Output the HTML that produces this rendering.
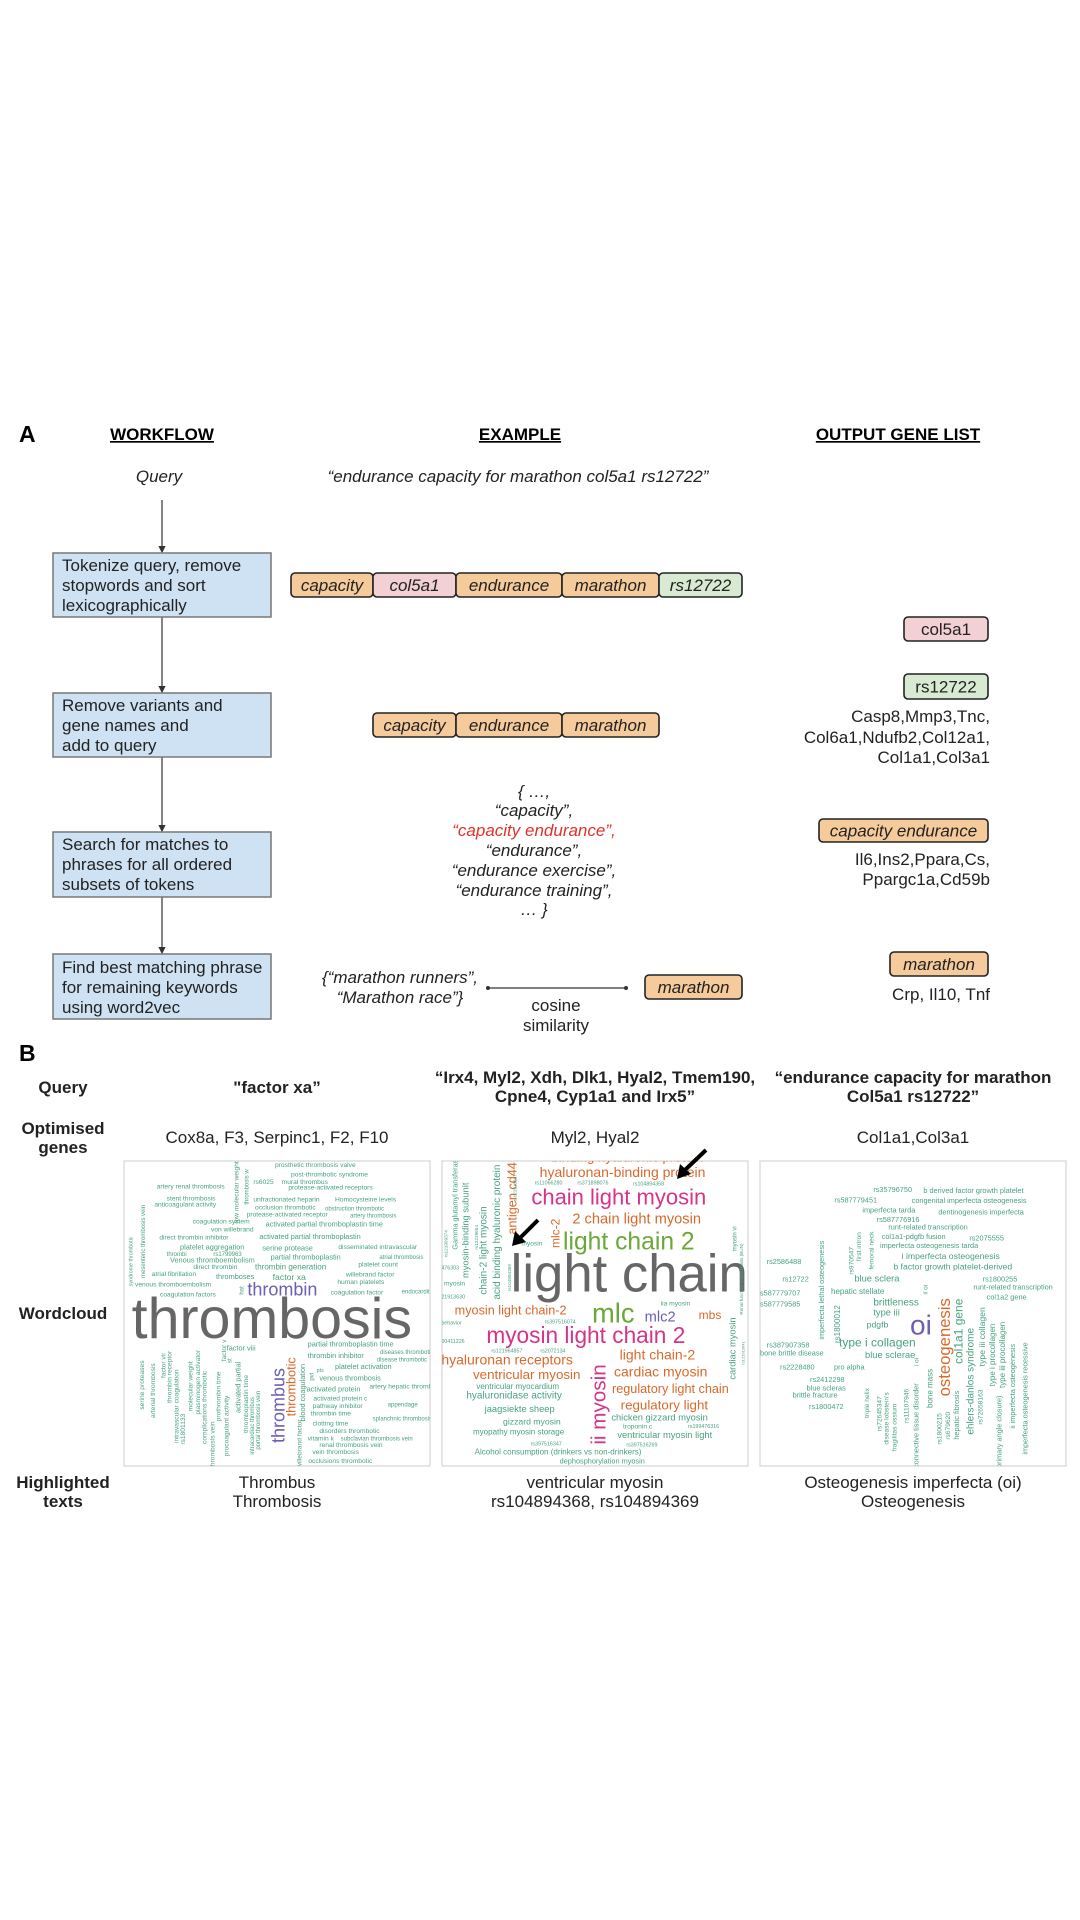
<!DOCTYPE html>
<html><head><meta charset="utf-8">
<style>
html,body{margin:0;padding:0;background:#fff;}
svg{display:block;font-family:"Liberation Sans",Arial,sans-serif;}
.h{font-weight:bold;font-size:17px;text-decoration:underline;}
.t{font-size:17px;fill:#222;}
.i{font-style:italic;}
.b{font-weight:bold;}
</style></head>
<body>
<svg id="fig" width="1080" height="1920" viewBox="0 0 1080 1920" xmlns="http://www.w3.org/2000/svg">
<defs>
<marker id="ah" markerWidth="6" markerHeight="6" refX="5" refY="3" orient="auto"><path d="M0,0 L6,3 L0,6 z" fill="#333"/></marker>
<clipPath id="cp1"><rect x="124" y="1161" width="306" height="305"/></clipPath>
<clipPath id="cp2"><rect x="442" y="1161" width="306" height="305"/></clipPath>
<clipPath id="cp3"><rect x="760" y="1161" width="306" height="305"/></clipPath>
</defs>
<rect width="1080" height="1920" fill="#fff"/>

<!-- Panel A -->
<text x="19" y="442" font-size="23" font-weight="bold">A</text>
<text class="h" x="162" y="440" text-anchor="middle">WORKFLOW</text>
<text class="h" x="520" y="440" text-anchor="middle">EXAMPLE</text>
<text class="h" x="898" y="440" text-anchor="middle">OUTPUT GENE LIST</text>

<text class="t i" x="159" y="482" text-anchor="middle">Query</text>
<text class="t i" x="518" y="482" text-anchor="middle">“endurance capacity for marathon col5a1 rs12722”</text>

<g stroke="#333" stroke-width="1.2">
<line x1="162" y1="500" x2="162" y2="552" marker-end="url(#ah)"/>
<line x1="162" y1="617" x2="162" y2="692" marker-end="url(#ah)"/>
<line x1="162" y1="757" x2="162" y2="831" marker-end="url(#ah)"/>
<line x1="162" y1="897" x2="162" y2="953" marker-end="url(#ah)"/>
</g>

<g>
<rect x="53" y="553" width="218" height="64" fill="#cfe2f3" stroke="#777" stroke-width="1.5"/>
<text class="t" x="62" y="571">Tokenize query, remove</text>
<text class="t" x="62" y="591">stopwords and sort</text>
<text class="t" x="62" y="611">lexicographically</text>
</g>
<g>
<rect x="53" y="693" width="218" height="64" fill="#cfe2f3" stroke="#777" stroke-width="1.5"/>
<text class="t" x="62" y="711">Remove variants and</text>
<text class="t" x="62" y="731">gene names and</text>
<text class="t" x="62" y="751">add to query</text>
</g>
<g>
<rect x="53" y="832" width="218" height="65" fill="#cfe2f3" stroke="#777" stroke-width="1.5"/>
<text class="t" x="62" y="850">Search for matches to</text>
<text class="t" x="62" y="870">phrases for all ordered</text>
<text class="t" x="62" y="890">subsets of tokens</text>
</g>
<g>
<rect x="53" y="954" width="218" height="65" fill="#cfe2f3" stroke="#777" stroke-width="1.5"/>
<text class="t" x="62" y="973">Find best matching phrase</text>
<text class="t" x="62" y="993">for remaining keywords</text>
<text class="t" x="62" y="1013">using word2vec</text>
</g>

<g id="tokens"></g>

<g class="t i" text-anchor="middle">
<text x="534" y="797">{ …,</text>
<text x="534" y="816">“capacity”,</text>
<text x="534" y="836" fill="#e0312b" style="fill:#e0312b">“capacity endurance”,</text>
<text x="534" y="856">“endurance”,</text>
<text x="534" y="876">“endurance exercise”,</text>
<text x="534" y="896">“endurance training”,</text>
<text x="534" y="915">… }</text>
</g>

<g>
<text class="t i" x="400" y="983" text-anchor="middle">{“marathon runners”,</text>
<text class="t i" x="400" y="1003" text-anchor="middle">“Marathon race”}</text>
<line x1="488" y1="988" x2="626" y2="988" stroke="#333" stroke-width="1.2"/>
<circle cx="488" cy="988" r="2" fill="#333"/><circle cx="626" cy="988" r="2" fill="#333"/>
<text class="t" x="556" y="1011" text-anchor="middle">cosine</text>
<text class="t" x="556" y="1031" text-anchor="middle">similarity</text>
</g>

<g>
<text class="t" x="990" y="722" text-anchor="end">Casp8,Mmp3,Tnc,</text>
<text class="t" x="990" y="743" text-anchor="end">Col6a1,Ndufb2,Col12a1,</text>
<text class="t" x="990" y="763" text-anchor="end">Col1a1,Col3a1</text>
<text class="t" x="990" y="865" text-anchor="end">Il6,Ins2,Ppara,Cs,</text>
<text class="t" x="990" y="885" text-anchor="end">Ppargc1a,Cd59b</text>
<text class="t" x="990" y="1000" text-anchor="end">Crp, Il10, Tnf</text>
</g>

<!-- Panel B -->
<text x="19" y="1061" font-size="23" font-weight="bold">B</text>
<g class="t b" text-anchor="middle">
<text x="63" y="1093">Query</text>
<text x="63" y="1134">Optimised</text>
<text x="63" y="1153">genes</text>
<text x="63" y="1319">Wordcloud</text>
<text x="63" y="1488">Highlighted</text>
<text x="63" y="1507">texts</text>
</g>
<g class="t b" text-anchor="middle">
<text x="277" y="1093">"factor xa”</text>
<text x="595" y="1083">“Irx4, Myl2, Xdh, Dlk1, Hyal2, Tmem190,</text>
<text x="595" y="1102">Cpne4, Cyp1a1 and Irx5”</text>
<text x="913" y="1083">“endurance capacity for marathon</text>
<text x="913" y="1102">Col5a1 rs12722”</text>
</g>
<g class="t" text-anchor="middle">
<text x="277" y="1143">Cox8a, F3, Serpinc1, F2, F10</text>
<text x="595" y="1143">Myl2, Hyal2</text>
<text x="913" y="1143">Col1a1,Col3a1</text>
</g>
<g class="t" text-anchor="middle">
<text x="277" y="1488">Thrombus</text>
<text x="277" y="1507">Thrombosis</text>
<text x="595" y="1488">ventricular myosin</text>
<text x="595" y="1507">rs104894368, rs104894369</text>
<text x="913" y="1488">Osteogenesis imperfecta (oi)</text>
<text x="913" y="1507">Osteogenesis</text>
</g>

<rect x="124" y="1161" width="306" height="305" fill="#fff" stroke="#ddd" stroke-width="1.5"/>
<rect x="442" y="1161" width="306" height="305" fill="#fff" stroke="#ddd" stroke-width="1.5"/>
<rect x="760" y="1161" width="306" height="305" fill="#fff" stroke="#ddd" stroke-width="1.5"/>
<g id="wc1" clip-path="url(#cp1)"></g>
<g id="wc2" clip-path="url(#cp2)"></g>
<g id="wc3" clip-path="url(#cp3)"></g>

<g stroke="#000" stroke-width="4">
<line x1="706" y1="1150" x2="685" y2="1170"/>
<polygon points="677,1179 680,1164 691,1174" fill="#000" stroke="none"/>
<line x1="538" y1="1220" x2="520" y2="1238"/>
<polygon points="512,1246 515,1231 526,1242" fill="#000" stroke="none"/>
</g>
</svg>

<script>
var NS="http://www.w3.org/2000/svg";
var tokenLabels1=["capacity","col5a1","endurance","marathon","rs12722"];
var tokenKinds1=["o","p","o","o","g"];
var tokenLabels2=["capacity","endurance","marathon"];
var tokenKinds2=["o","o","o"];
var fills={o:"#f6cb9c",p:"#f2d0d3",g:"#d9ead3"};
var tokenEdges1=[291,373,456,562,659,742];
var tokenEdges2=[373,456,562,659];

var tg=document.getElementById("tokens");
function box(x,y,w,h,kind,label,italic,name){
  var r=document.createElementNS(NS,"rect");
  r.setAttribute("x",x);r.setAttribute("y",y);r.setAttribute("width",w);r.setAttribute("height",h);
  r.setAttribute("rx",4);r.setAttribute("fill",fills[kind]);r.setAttribute("stroke","#222");r.setAttribute("stroke-width","1.6");
  
  
  tg.appendChild(r);
  var t=document.createElementNS(NS,"text");
  t.setAttribute("x",x+w/2);t.setAttribute("y",y+h/2+6);t.setAttribute("text-anchor","middle");
  t.setAttribute("class","t"+(italic?" i":""));t.textContent=label;
  
  
  tg.appendChild(t);
}
for(var i=0;i<tokenLabels1.length;i++){box(tokenEdges1[i],573,tokenEdges1[i+1]-tokenEdges1[i],24,tokenKinds1[i],tokenLabels1[i],true,"token-"+tokenLabels1[i]);}
for(var i=0;i<tokenLabels2.length;i++){box(tokenEdges2[i],713,tokenEdges2[i+1]-tokenEdges2[i],24,tokenKinds2[i],tokenLabels2[i],true,"token2-"+tokenLabels2[i]);}
box(904,617,84,24,"p","col5a1",false,"output-col5a1");
box(904,674,84,25,"g","rs12722",false,"output-rs12722");
box(819,819,169,23,"o","capacity endurance",true,"output-capacity-endurance");
box(645,975,97,24,"o","marathon",true,"example-marathon");
box(890,952,98,24,"o","marathon",true,"output-marathon");

var C={g:"#47a27f",k:"#666666",p:"#6a5fb5",o:"#d9692b",m:"#d6338a",l:"#6aa83a"};
// [text, x, y, size, color, vertical] in 3x zoom units of each panel
var words1=[
["prosthetic thrombosis valve",465,27,20,"g"],["post-thrombotic syndrome",513,55,20,"g"],["rs6025",400,78,20,"g"],["mural thrombus",485,78,20,"g"],
["artery renal thrombosis",110,92,20,"g"],["protease-activated receptors",505,94,20,"g"],["stent thrombosis",140,127,20,"g"],
["unfractionated heparin",400,131,20,"g"],["Homocysteine levels",645,131,20,"g"],["anticoagulant activity",103,146,20,"g"],
["occlusion thrombotic",405,155,20,"g"],["obstruction thrombotic",615,157,18,"g"],["protease-activated receptor",380,175,20,"g"],
["artery thrombosis",690,178,18,"g"],["coagulation system",218,197,20,"g"],["activated partial thromboplastin time",437,205,22,"g"],
["von willebrand",273,220,20,"g"],["direct thrombin inhibitor",118,245,20,"g"],["activated partial thromboplastin",418,243,22,"g"],
["platelet aggregation",180,274,22,"g"],["serine protease",427,278,22,"g"],["disseminated intravascular",655,273,20,"g"],
["thrombi",140,294,18,"g"],["rs1799963",280,294,18,"g"],["partial thromboplastin",452,305,22,"g"],["atrial thrombosis",778,303,18,"g"],
["Venous thromboembolism",150,314,22,"g"],["direct thrombin",220,333,20,"g"],["thrombin generation",405,335,24,"g"],["platelet count",715,326,20,"g"],
["atrial fibrillation",95,354,20,"g"],["thromboses",288,363,22,"g"],["factor xa",458,366,26,"g"],["willebrand factor",678,355,20,"g"],
["venous thromboembolism",45,385,20,"g"],["human platelets",652,378,20,"g"],["thrombin",382,412,54,"p"],["coagulation factors",120,416,20,"g"],
["coagulation factor",632,410,20,"g"],["endocarditis",845,407,18,"g"],["thrombosis",35,540,172,"k"],
["partial thromboplastin time",563,565,22,"g"],["factor viii",320,578,22,"g"],["thrombin inhibitor",563,600,22,"g"],
["diseases thrombotic",780,588,18,"g"],["disease thrombotic",770,610,18,"g"],["platelet activation",645,633,22,"g"],["pts",590,642,16,"g"],
["venous thrombosis",598,668,22,"g"],["activated protein",560,700,22,"g"],["artery hepatic thrombosis",748,692,20,"g"],
["activated protein c",580,727,20,"g"],["appendage",803,745,18,"g"],["pathway inhibitor",578,750,20,"g"],["thrombin time",572,773,20,"g"],
["splanchnic thrombosis",758,788,18,"g"],["clotting time",578,803,20,"g"],["disorders thrombotic",598,825,20,"g"],["vitamin k",563,847,20,"g"],
["subclavian thrombosis vein",662,847,18,"g"],["renal thrombosis vein",598,867,20,"g"],["vein thrombosis",577,888,20,"g"],["occlusions thrombotic",565,915,20,"g"],
["thrombus",493,855,54,"p",1],["thrombotic",526,775,38,"o",1],["blood coagulation",555,790,22,"g",1],["willebrand factor",545,930,20,"g",1],["pvt",580,668,18,"g",1],
["serine proteases",72,755,20,"g",1],["arterial thrombosis",105,780,20,"g",1],["factor vii",137,660,20,"g",1],["thrombin receptor",155,735,20,"g",1],
["intravascular coagulation",175,855,20,"g",1],["rs1801133",195,860,20,"g",1],["molecular weight",218,760,20,"g",1],["plasminogen activator",240,770,20,"g",1],
["complications thrombotic",260,858,20,"g",1],["thrombosis vein",283,930,20,"g",1],["prothrombin time",302,790,20,"g",1],["procoagulant activity",325,895,20,"g",1],
["factor v",318,610,20,"g",1],["activated partial",362,765,22,"g",1],["low molecular weight",355,195,20,"g",1],["thromboplastin time",384,825,20,"g",1],
["intracardiac thrombus",402,890,18,"g",1],["portal thrombosis vein",420,875,18,"g",1],["syndrome thrombotic",38,385,16,"g",1],
["mesenteric thrombosis vein",75,360,18,"g",1],["thrombosis w",385,140,18,"g",1],["hat",370,410,18,"g",1],["st",335,615,18,"g",1]
];
var words2=[
["binding hyaluronic protein",340,10,40,"o"],["hyaluronan-binding protein",305,57,42,"o"],["rs11066280",290,80,16,"g"],["rs371898076",418,80,16,"g"],
["rs104894368",585,82,16,"g"],["chain light myosin",280,140,66,"m"],["2 chain light myosin",403,197,44,"o"],["light chain 2",375,275,74,"l"],
["myosin",250,262,20,"g"],["light chain",218,400,158,"k"],["mlc",462,493,82,"l"],["mlc2",620,490,44,"p"],["mbs",782,483,36,"o"],
["iia myosin",668,443,20,"g"],["myosin light chain-2",50,470,38,"o"],["rs397516074",320,497,16,"g"],["myosin light chain 2",145,555,68,"m"],
["rs121964857",160,583,16,"g"],["rs2072134",307,583,16,"g"],["hyaluronan receptors",10,620,42,"o"],["light chain-2",545,605,42,"o"],
["ventricular myosin",105,663,40,"o"],["cardiac myosin",528,655,42,"o"],["ventricular myocardium",115,693,24,"g"],["regulatory light chain",522,705,38,"o"],
["hyaluronidase activity",85,722,30,"g"],["regulatory light",548,755,40,"o"],["jaagsiekte sheep",140,762,28,"g"],["chicken gizzard myosin",520,788,28,"g"],
["gizzard myosin",195,800,26,"g"],["troponin c",555,812,20,"g"],["rs199476316",750,810,16,"g"],["myopathy myosin storage",105,830,24,"g"],
["ventricular myosin light",538,840,28,"g"],["rs397516347",278,862,16,"g"],["rs397516269",565,865,16,"g"],
["Alcohol consumption (drinkers vs non-drinkers)",110,890,24,"g"],["dephosphorylation myosin",365,917,22,"g"],
["476303",10,335,16,"g"],["myosin",18,382,20,"g"],["21913630",10,422,16,"g"],["behavior",10,500,16,"g"],["00411226",10,555,16,"g"],
["ii myosin",502,860,62,"m",1],["antigen cd44",236,230,38,"o",1],["mlc-2",364,270,36,"o",1],["acid binding hyaluronic protein",186,425,30,"g",1],
["chain-2 light myosin",145,410,30,"g",1],["myosin-binding subunit",92,360,28,"g",1],["Gamma glutamyl transferase",58,275,22,"g",1],
["rs121909374",28,298,14,"g",1],["rs12229654",120,275,14,"g",1],["rs121913627",236,130,14,"g",1],["rs104894369",219,400,14,"g",1],
["cardiac myosin",893,665,28,"g",1],["myosin vi",895,280,18,"g",1],["Renal function-related traits (BUN)",915,470,14,"g",1],["rs121913641",920,620,12,"g",1]
];
var words3=[
["rs35796750",355,102,22,"g"],["b derived factor growth platelet",505,105,22,"g"],["rs587779451",238,133,22,"g"],
["congenital imperfecta osteogenesis",470,135,22,"g"],["imperfecta tarda",322,163,22,"g"],["dentinogenesis imperfecta",550,170,22,"g"],
["rs587776916",365,192,22,"g"],["runt-related transcription",400,215,22,"g"],["col1a1-pdgfb fusion",380,243,22,"g"],["rs2075555",643,248,22,"g"],
["imperfecta osteogenesis tarda",375,270,22,"g"],["i imperfecta osteogenesis",440,303,26,"g"],["rs2586488",35,318,22,"g"],
["b factor growth platelet-derived",415,335,26,"g"],["rs1800255",683,370,22,"g"],["blue sclera",298,370,28,"g"],["rs12722",82,370,22,"g"],
["runt-related transcription",655,395,22,"g"],["s587779707",15,412,22,"g"],["hepatic stellate",228,408,24,"g"],["col1a2 gene",695,425,22,"g"],
["s587779585",15,445,22,"g"],["brittleness",355,443,30,"g"],["type iii",355,473,28,"g"],["pdgfb",335,508,26,"g"],["oi",465,530,84,"p"],
["type i collagen",252,565,36,"g"],["rs387907358",35,568,22,"g"],["bone brittle disease",15,592,22,"g"],["blue sclerae",330,600,28,"g"],
["rs2228480",75,635,22,"g"],["pro alpha",237,635,22,"g"],["rs2412298",165,672,22,"g"],["blue scleras",155,697,22,"g"],
["brittle fracture",113,718,22,"g"],["rs1800472",162,753,22,"g"],
["osteogenesis",585,715,50,"o",1],["col1a1 gene",622,618,36,"g",1],["ehlers-danlos syndrome",656,830,30,"g",1],["type iii collagen",690,625,26,"g",1],
["type i procollagen",720,685,24,"g",1],["type iii procollagen",750,690,24,"g",1],["ii imperfecta osteogenesis",780,812,22,"g",1],
["imperfecta osteogenesis recessive",818,890,22,"g",1],["primary angle closure)",740,930,22,"g",1],["rs72658163",682,800,20,"g",1],
["hepatic fibrosis",612,845,22,"g",1],["rs679620",585,845,20,"g",1],["rs1800215",560,860,20,"g",1],["bone mass",532,750,24,"g",1],
["connective tissue disorder",490,930,22,"g",1],["rs11107946",460,795,20,"g",1],["i oi",490,625,20,"g",1],["ii oi",518,410,20,"g",1],
["fragilitas ossium",425,880,20,"g",1],["disease lobstein's",400,860,20,"g",1],["rs72645347",380,820,20,"g",1],["triple helix",342,780,20,"g",1],
["rs1800012",255,555,24,"g",1],["imperfecta lethal osteogenesis",207,545,22,"g",1],["rs970547",295,350,20,"g",1],["first intron",318,310,20,"g",1],
["femoral neck",355,335,20,"g",1]
];
function cloud(id,words,ox,oy,name){
  var g=document.getElementById(id);
  
  
  words.forEach(function(w){
    var t=document.createElementNS(NS,"text");
    var x=ox+w[1]/3,y=oy+w[2]/3;
    t.setAttribute("font-size",(w[3]/3).toFixed(2));
    t.setAttribute("fill",C[w[4]]);
    if(w[5]){t.setAttribute("transform","translate("+x+","+y+") rotate(-90)");}
    else{t.setAttribute("x",x);t.setAttribute("y",y);}
    t.textContent=w[0];
    
    
    g.appendChild(t);
  });
}
cloud("wc1",words1,120,1158,"wordcloud-words-factor-xa");
cloud("wc2",words2,438,1158,"wordcloud-words-myosin");
cloud("wc3",words3,755,1158,"wordcloud-words-osteogenesis");
</script>
</body></html>
